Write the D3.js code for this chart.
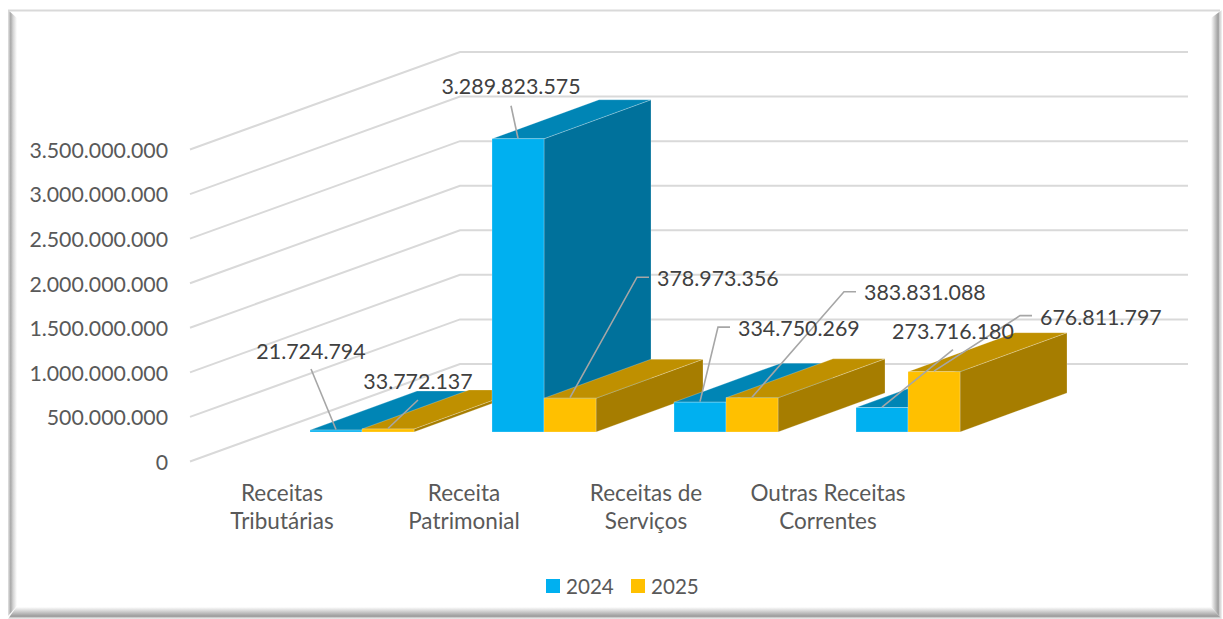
<!DOCTYPE html>
<html lang="pt">
<head>
<meta charset="utf-8">
<script src="https://cdn.jsdelivr.net/npm/d3@7/dist/d3.min.js"></script>
<style>
html,body{margin:0;padding:0;background:#fff;overflow:hidden}
svg{display:block}
text{font-family:Lato,"Open Sans",sans-serif}
</style>
</head>
<body>
<svg id="chart" width="1223" height="619"></svg>
<script>
const categories = ["Receitas Tributárias", "Receita Patrimonial", "Receitas de Serviços", "Outras Receitas Correntes"];
const categoryLines = [["Receitas", "Tributárias"], ["Receita", "Patrimonial"], ["Receitas de", "Serviços"], ["Outras Receitas", "Correntes"]];
const seriesNames = ["2024", "2025"];
const values2024 = [21724794, 3289823575, 334750269, 273716180];
const values2025 = [33772137, 378973356, 383831088, 676811797];
const axisTicks = [0, 500000000, 1000000000, 1500000000, 2000000000, 2500000000, 3000000000, 3500000000];

const svg = d3.select("#chart");
const fmt = v => d3.format(",")(v).replace(/,/g, ".");

const palette = {
  "2024": {front: "#00B0F0", top: "#0085B5", side: "#00719B"},
  "2025": {front: "#FFC000", top: "#BF9000", side: "#A67D00"}
};

// projection of the 3D box
const depth = {x: 107, y: -39};
const wall = {x: 270, y: -97.5};
const wallLeft = 190, wallRight = 1188;
const y = d3.scaleLinear().domain([0, 3500000000]).range([461.5, 149.5]);
const unit = v => y(0) - y(v);
const baseY = 432;
const xCat = d3.scaleBand().domain(categories).range([271, 999]);
const xSer = d3.scaleBand().domain(seriesNames).range([39, 143]);

// frame
const defs = svg.append("defs");
function bevel(id, x1, y1, x2, y2, stops) {
  const g = defs.append("linearGradient").attr("id", id).attr("gradientUnits", "userSpaceOnUse")
    .attr("x1", x1).attr("y1", y1).attr("x2", x2).attr("y2", y2);
  stops.forEach(s => g.append("stop").attr("offset", s[0]).attr("stop-color", s[1]));
}
bevel("bl", 8, 0, 17, 0, [[0, "#e4e4e4"], [0.3, "#a9a9a9"], [0.55, "#d2d2d2"], [1, "#ffffff"]]);
bevel("br", 1211, 0, 1222, 0, [[0, "#ffffff"], [0.66, "#9c9c9c"], [0.76, "#c8c8c8"], [1, "#f4f4f4"]]);
bevel("bb", 0, 607, 0, 619, [[0, "#ffffff"], [0.78, "#9a9a9a"], [0.85, "#c4c4c4"], [1, "#f0f0f0"]]);
const frame = svg.append("g");
frame.append("polygon").attr("points", "8,10 17,18 17,606 8,616").attr("fill", "url(#bl)");
frame.append("polygon").attr("points", "1222,10 1211,18 1211,607 1222,619").attr("fill", "url(#br)");
frame.append("polygon").attr("points", "8,619 17,606 1211,607 1222,619").attr("fill", "url(#bb)");
frame.append("rect").attr("x", 8).attr("y", 9.5).attr("width", 1212).attr("height", 2).attr("fill", "#d9d9d9");

// gridlines: side wall + back wall
const grid = svg.append("g").attr("fill", "none").attr("stroke", "#d9d9d9").attr("stroke-width", 2);
grid.selectAll("polyline").data(axisTicks).join("polyline")
  .attr("points", d => `${wallLeft},${y(d)} ${wallLeft + wall.x},${y(d) + wall.y} ${wallRight},${y(d) + wall.y}`);

// value axis
const axis = svg.append("g").attr("transform", "translate(168,1)")
  .call(d3.axisLeft(y).tickValues(axisTicks).tickFormat(fmt).tickSize(0).tickPadding(0));
axis.select(".domain").remove();
axis.selectAll("text").attr("font-size", 21.3).attr("font-family", "Lato").attr("fill", "#595959");

// bars
const bars = [];
categories.forEach((c, i) => {
  bars.push({cat: c, s: "2024", v: values2024[i]});
  bars.push({cat: c, s: "2025", v: values2025[i]});
});
bars.forEach(b => { b.x0 = xCat(b.cat) + xSer(b.s); b.x1 = b.x0 + xSer.bandwidth(); b.yt = baseY - unit(b.v); });
const poly = a => a.map(p => p.join(",")).join(" ");
const barG = svg.append("g").attr("stroke", "#fff").attr("stroke-opacity", 0.3).attr("stroke-width", 0.8)
  .selectAll("g").data(bars).join("g");
barG.append("polygon").attr("fill", d => palette[d.s].side)
  .attr("points", d => poly([[d.x1, d.yt], [d.x1 + depth.x, d.yt + depth.y], [d.x1 + depth.x, baseY + depth.y], [d.x1, baseY]]));
barG.append("polygon").attr("fill", d => palette[d.s].top)
  .attr("points", d => poly([[d.x0, d.yt], [d.x1, d.yt], [d.x1 + depth.x, d.yt + depth.y], [d.x0 + depth.x, d.yt + depth.y]]));
barG.append("rect").attr("fill", d => palette[d.s].front)
  .attr("x", d => d.x0).attr("y", d => d.yt).attr("width", d => d.x1 - d.x0).attr("height", d => baseY - d.yt);

// data labels with leader lines (offsets from the bar's top-front centre)
const labelLayout = [
  {pts: [[-25, -61]], tx: -25, ty: -79},
  {pts: [[30, -29]], tx: 30, ty: -47},
  {pts: [[-7, -33]], tx: -7, ty: -52.5},
  {pts: [[67, -121], [79, -121]], tx: 87, ty: -119.5},
  {pts: [[18, -75], [30, -75]], tx: 38, ty: -73.5},
  {pts: [[92, -106], [104, -106]], tx: 112, ty: -105.5},
  {pts: [[71, -58]], tx: 71, ty: -76},
  {pts: [[86, -56], [98, -56]], tx: 106, ty: -54.5}
];
const labelAnchor = ["middle", "middle", "middle", "start", "start", "start", "middle", "start"];
const labels = svg.append("g");
bars.forEach((b, i) => {
  const cx = (b.x0 + b.x1) / 2, l = labelLayout[i];
  const pts = [[cx, b.yt - 0.5]].concat(l.pts.map(p => [cx + p[0], b.yt + p[1]]));
  labels.append("polyline").attr("points", poly(pts)).attr("fill", "none")
    .attr("stroke", "#a6a6a6").attr("stroke-width", 1.6);
});
bars.forEach((b, i) => {
  const cx = (b.x0 + b.x1) / 2, l = labelLayout[i];
  labels.append("text").attr("x", cx + l.tx).attr("y", b.yt + l.ty).attr("dy", "0.35em")
    .attr("text-anchor", labelAnchor[i]).attr("font-size", 21.4).attr("fill", "#404040").text(fmt(b.v));
});

// category labels
const catG = svg.append("g").selectAll("text").data(categories).join("text")
  .attr("text-anchor", "middle").attr("font-size", 22.5).attr("fill", "#595959")
  .attr("x", d => xCat(d) + xCat.bandwidth() / 2 - 80);
catG.selectAll("tspan").data((d, i) => categoryLines[i]).join("tspan")
  .attr("x", function () { return d3.select(this.parentNode).attr("x"); })
  .attr("y", (d, i) => 501 + i * 28).text(d => d);

// legend
const legend = svg.append("g").selectAll("g").data(seriesNames).join("g")
  .attr("transform", (d, i) => `translate(${546 + i * 85},579)`);
legend.append("rect").attr("width", 14).attr("height", 14).attr("fill", d => palette[d].front);
legend.append("text").attr("x", 20).attr("y", 14.5).attr("font-size", 20.6).attr("fill", "#595959").text(d => d);
</script>
</body>
</html>
